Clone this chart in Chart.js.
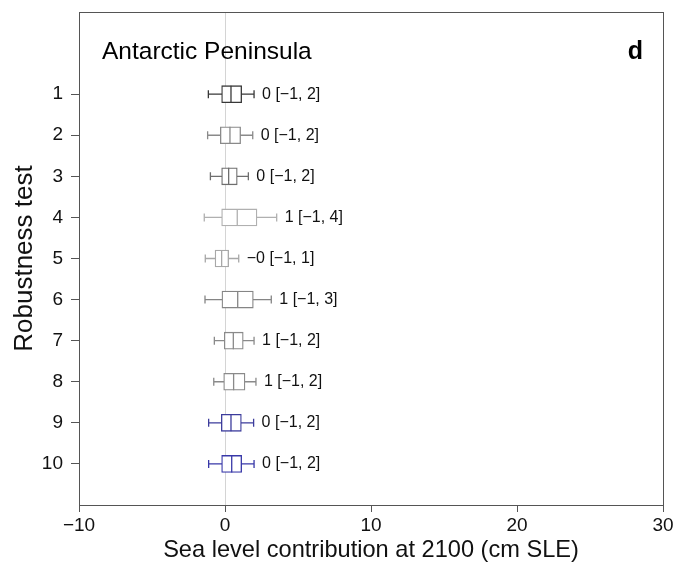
<!DOCTYPE html>
<html lang="en">
<head>
  <meta charset="UTF-8">
  <title>Antarctic Peninsula – robustness tests</title>
  <script src="https://cdn.jsdelivr.net/npm/chart.js"></script>
  <style>
    html, body { margin: 0; padding: 0; background: #fff; }
    #wrap { width: 677px; height: 566px; }
  </style>
</head>
<body>
  <div id="wrap"><canvas id="boxChart" width="677" height="566"></canvas></div>

  <script>
    // robustness tests (rows, top to bottom)
    const tests = [1, 2, 3, 4, 5, 6, 7, 8, 9, 10];
    // box plot stats, cm SLE at 2100
    const whiskerLow  = [-1.14, -1.19, -1.00, -1.42, -1.35, -1.37, -0.73, -0.77, -1.12, -1.12];
    const quart1      = [-0.23, -0.32, -0.23, -0.23, -0.68, -0.21, -0.05, -0.09, -0.25, -0.23];
    const medians     = [ 0.41,  0.34,  0.25,  0.84, -0.23,  0.87,  0.57,  0.59,  0.41,  0.46];
    const quart3      = [ 1.14,  1.07,  0.84,  2.19,  0.25,  1.94,  1.25,  1.37,  1.12,  1.14];
    const whiskerHigh = [ 1.99,  1.90,  1.60,  3.54,  0.94,  3.17,  1.99,  2.12,  1.96,  1.99];
    const rangeLabels = ['0 [\u22121, 2]', '0 [\u22121, 2]', '0 [\u22121, 2]', '1 [\u22121, 4]', '\u22120 [\u22121, 1]',
                         '1 [\u22121, 3]', '1 [\u22121, 2]', '1 [\u22121, 2]', '0 [\u22121, 2]', '0 [\u22121, 2]'];
    const boxColors = ['#383838', '#8a8a8a', '#6e6e6e', '#b0b0b0', '#a8a8a8',
                       '#858585', '#8a8a8a', '#8a8a8a', '#3c3c9c', '#3838a8'];

    const FONT = "Helvetica, 'Liberation Sans', Arial, sans-serif";
    const AXIS = '#555';

    // whiskers behind the boxes, medians + labels + frame on top
    const boxExtras = {
      id: 'boxExtras',
      beforeDatasetsDraw(chart) {
        const { ctx, scales: { x, y } } = chart;
        ctx.save();
        ctx.lineWidth = 1.3;
        tests.forEach((t, i) => {
          const py = y.getPixelForValue(t);
          ctx.strokeStyle = boxColors[i];
          ctx.beginPath();
          ctx.moveTo(x.getPixelForValue(whiskerLow[i]), py);
          ctx.lineTo(x.getPixelForValue(whiskerHigh[i]), py);
          [whiskerLow[i], whiskerHigh[i]].forEach(v => {
            const px = x.getPixelForValue(v);
            ctx.moveTo(px, py - 4);
            ctx.lineTo(px, py + 4);
          });
          ctx.stroke();
        });
        ctx.restore();
      },
      afterDatasetsDraw(chart) {
        const { ctx, chartArea: a, scales: { x, y } } = chart;
        ctx.save();
        ctx.lineWidth = 1.3;
        tests.forEach((t, i) => {
          const py = y.getPixelForValue(t);
          const px = x.getPixelForValue(medians[i]);
          ctx.strokeStyle = boxColors[i];
          ctx.beginPath();
          ctx.moveTo(px, py - 8.5);
          ctx.lineTo(px, py + 8.5);
          ctx.stroke();

          ctx.fillStyle = '#111';
          ctx.font = '16px ' + FONT;
          ctx.textAlign = 'left';
          ctx.textBaseline = 'middle';
          ctx.fillText(rangeLabels[i], x.getPixelForValue(whiskerHigh[i]) + 8, py);
        });

        // panel frame
        ctx.strokeStyle = AXIS;
        ctx.lineWidth = 1;
        ctx.strokeRect(a.left + 0.5, a.top + 0.5, a.right - a.left, a.bottom - a.top);

        // panel title and letter
        ctx.fillStyle = '#000';
        ctx.textBaseline = 'middle';
        ctx.textAlign = 'left';
        ctx.font = '24.5px ' + FONT;
        ctx.fillText('Antarctic Peninsula', a.left + 23, a.top + 40);
        ctx.textAlign = 'right';
        ctx.font = 'bold 25px ' + FONT;
        ctx.fillText('d', a.right - 20, a.top + 40);
        ctx.restore();
      }
    };

    const ctx = document.getElementById('boxChart').getContext('2d');
    new Chart(ctx, {
      type: 'bar',
      data: {
        datasets: [{
          data: tests.map((t, i) => ({ x: [quart1[i], quart3[i]], y: t })),
          backgroundColor: '#ffffff',
          borderColor: boxColors,
          borderWidth: 1.3,
          borderSkipped: false,
          barThickness: 17,
          grouped: false
        }]
      },
      options: {
        indexAxis: 'y',
        responsive: false,
        animation: false,
        layout: { padding: { top: 12, right: 14, left: 0, bottom: 0 } },
        plugins: { legend: { display: false }, tooltip: { enabled: false } },
        scales: {
          x: {
            type: 'linear',
            min: -10,
            max: 30,
            afterFit: s => { s.height = 61; s.paddingLeft = 0; s.paddingRight = 0; },
            ticks: {
              stepSize: 10,
              padding: 2,
              color: '#111',
              font: { family: FONT, size: 19 },
              callback: v => v < 0 ? '\u2212' + Math.abs(v) : String(v)
            },
            grid: {
              color: c => (c.tick && c.tick.value === 0) ? '#d4d4d4' : 'rgba(0,0,0,0)',
              tickColor: AXIS,
              tickLength: 7,
              lineWidth: 1
            },
            border: { color: AXIS },
            title: {
              display: true,
              text: 'Sea level contribution at 2100 (cm SLE)',
              color: '#111',
              font: { family: FONT, size: 23.6 },
              padding: { top: 0, bottom: 1 }
            }
          },
          y: {
            type: 'linear',
            reverse: true,
            offset: false,
            min: -1,
            max: 11,
            afterFit: s => { s.width = 79; s.paddingTop = 0; s.paddingBottom = 0; },
            afterBuildTicks: s => { s.ticks = tests.map(v => ({ value: v })); },
            ticks: {
              padding: 8,
              color: '#111',
              font: { family: FONT, size: 19 },
              callback: v => String(v)
            },
            grid: {
              offset: false,
              drawOnChartArea: false,
              tickColor: AXIS,
              tickLength: 8
            },
            border: { color: AXIS },
            title: {
              display: true,
              text: 'Robustness test',
              color: '#111',
              font: { family: FONT, size: 26 },
              padding: { top: 9, bottom: 0 }
            }
          }
        }
      },
      plugins: [boxExtras]
    });
  </script>
</body>
</html>
